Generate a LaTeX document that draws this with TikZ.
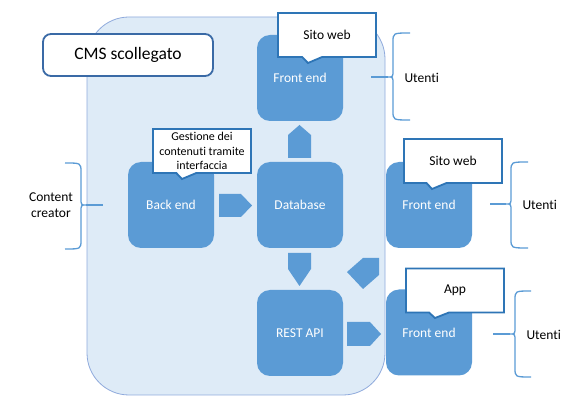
\documentclass[tikz,border=0pt]{standalone}
\usepackage{fontspec}
\setmainfont{Carlito}[Ligatures=NoCommon]
\usepackage{tikz}
\usetikzlibrary{shapes.callouts,calc}
\definecolor{azzurro}{HTML}{5B9BD5}
\definecolor{sfondo}{HTML}{DEEBF7}
\definecolor{bordosfondo}{HTML}{8FAADC}
\definecolor{bordofumetto}{HTML}{2E75B6}
\definecolor{bordocms}{HTML}{3A6AA6}
\tikzstyle{blocco}=[rectangle, rounded corners=13pt, fill=azzurro, text=white, minimum width=86pt, minimum height=86pt, inner sep=0pt, font=\fontsize{13.5}{15}\selectfont]
\tikzstyle{fumetto}=[rectangle callout, draw=bordofumetto, line width=1.8pt, fill=white, minimum width=98pt, minimum height=44pt, callout pointer width=20pt, inner sep=1pt, align=center, font=\fontsize{13.5}{15}\selectfont]
\tikzstyle{freccia}=[fill=azzurro]
\tikzstyle{lineagraffa}=[draw=azzurro, line width=1.3pt]
\tikzstyle{etichetta}=[align=center, font=\fontsize{13.5}{16.5}\selectfont]

% graffa: x verticale, alto, centro, basso, x estremi, x gambo
\newcommand{\graffa}[6]{%
	\path[lineagraffa] (#5,#2) .. controls (#1,#2) .. (#1,#2+9) -- (#1,#3-7)
		.. controls (#1,#3) .. ($(#1,#3)!5pt!(#6,#3)$)
		.. controls (#1,#3) .. (#1,#3+7) -- (#1,#4-9)
		.. controls (#1,#4) .. (#5,#4);
	\path[lineagraffa] ($(#1,#3)!5pt!(#6,#3)$) -- (#6,#3);}

\begin{document}
\begin{tikzpicture}[x=1pt,y=-1pt]
	\useasboundingbox (0,0) rectangle (566,406);
	\path[draw=bordosfondo, fill=sfondo, rounded corners=42pt, line width=0.8pt] (87,17) rectangle (385,395);

	\graffa{81}{163}{205}{249}{65}{103}
	\graffa{393}{33}{77}{120}{410}{371}
	\graffa{511}{162}{204}{248}{528}{490}
	\graffa{515}{291}{334}{377}{531}{493}

	\node[blocco] (fe1) at (300,78){Front end};
	\node[blocco] (be) at (171,205){Back end};
	\node[blocco] (db) at (300,205){Database};
	\node[blocco] (api) at (300,333){REST API};
	\node[blocco] (fe2) at (429,205){Front end};
	\node[blocco] (fe3) at (429,332.5){Front end};

	\path[freccia] (288,158) -- (288,135) -- (299.5,125) -- (311,135) -- (311,158) -- cycle;
	\path[freccia] (219,194) -- (241,194) -- (252,205.5) -- (241,217) -- (219,217) -- cycle;
	\path[freccia] (288,253) -- (311,253) -- (311,269) -- (299.5,286) -- (288,269) -- cycle;
	\path[freccia] (347,272) -- (363,258) -- (379,258) -- (379,275) -- (363,289) -- cycle;
	\path[freccia] (347,322) -- (370,322) -- (381,334) -- (370,346) -- (347,346) -- cycle;

	\node[draw=bordocms, line width=1.8pt, fill=white, rounded corners=8pt, minimum width=170pt, minimum height=42pt, font=\fontsize{17.5}{19}\selectfont] (cms) at (128,55){CMS scollegato};
	\node[fumetto, callout absolute pointer={(308,63)}] (sito1) at (327,35){Sito web};
	\node[fumetto, callout absolute pointer={(182,179)}, font=\fontsize{12}{14.5}\selectfont] (gestione) at (202,151){Gestione dei\\contenuti tramite\\interfaccia};
	\node[fumetto, callout absolute pointer={(432,189)}] (sito2) at (453,161){Sito web};
	\node[fumetto, callout absolute pointer={(435,318)}] (app) at (455,290.5){App};

	\node[etichetta] (creator) at (51,205){Content\\creator};
	\node[etichetta, anchor=west] (utenti1) at (401,78){Utenti};
	\node[etichetta, anchor=west] (utenti2) at (519,205){Utenti};
	\node[etichetta, anchor=west] (utenti3) at (523,335){Utenti};
\end{tikzpicture}
\end{document}
